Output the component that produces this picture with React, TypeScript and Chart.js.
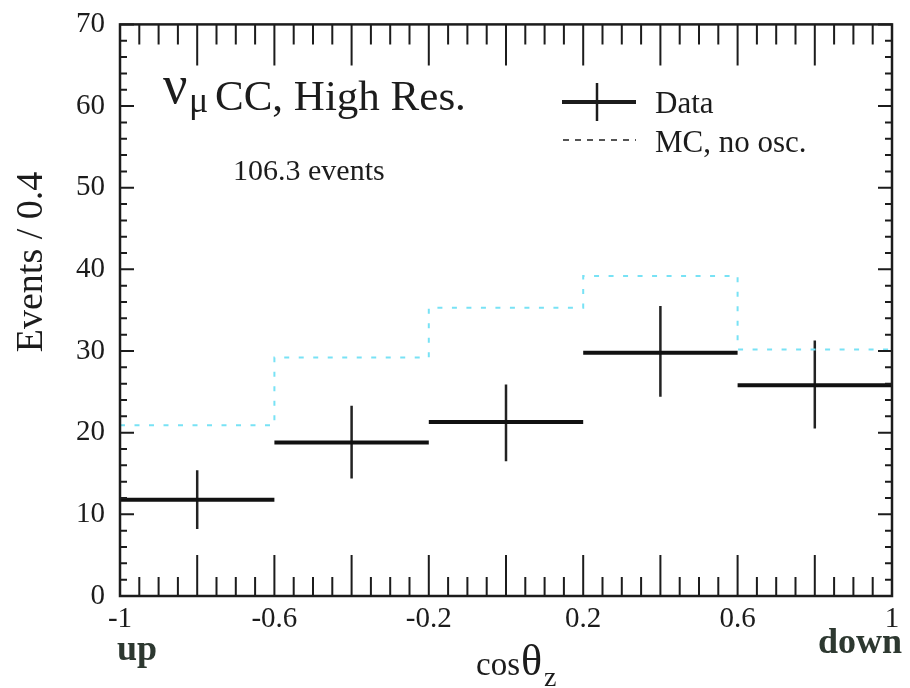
import React, { useEffect, useRef } from "react";
import { Chart, registerables } from "chart.js";

Chart.register(...registerables);

// ---- data ----
const BIN_EDGES = [-1, -0.6, -0.2, 0.2, 0.6, 1];
const BIN_CENTERS = [-0.8, -0.4, 0, 0.4, 0.8];
const DATA_EVENTS = [11.8, 18.8, 21.3, 29.8, 25.8];
const DATA_ERR_UP = [3.6, 4.5, 4.6, 5.7, 5.5];
const DATA_ERR_DOWN = [3.6, 4.4, 4.8, 5.4, 5.3];
const MC_NO_OSC = [20.9, 29.2, 35.3, 39.2, 30.2];

const X_TICKS = [-1, -0.6, -0.2, 0.2, 0.6, 1];
const X_TICK_LABELS = ["-1", "-0.6", "-0.2", "0.2", "0.6", "1"];
const Y_TICKS = [0, 10, 20, 30, 40, 50, 60, 70];
const Y_TICK_LABELS = ["0", "10", "20", "30", "40", "50", "60", "70"];

const TITLE_NU = "ν";
const TITLE_MU = "μ";
const TITLE_REST = "CC, High Res.";
const EVENTS_NOTE = "106.3 events";
const LEGEND_DATA = "Data";
const LEGEND_MC = "MC, no osc.";
const Y_TITLE = "Events / 0.4";
const X_TITLE_COS = "cos";
const X_TITLE_THETA = "θ";
const X_TITLE_SUB = "z";
const LABEL_UP = "up";
const LABEL_DOWN = "down";

const SERIF = "'Liberation Serif', 'Times New Roman', serif";
const INK = "#1c1c1c";
const MC_COLOR = "rgb(120, 226, 245)";

const framePlugin = {
  id: "frameAndNotes",
  afterDraw(chart: any) {
    const { ctx, chartArea } = chart;
    const xs = chart.scales.x;
    const ys = chart.scales.y;
    const { left, right, top, bottom } = chartArea;
    ctx.save();
    ctx.strokeStyle = INK;
    ctx.lineCap = "butt";

    // inward ticks, x (bottom & top)
    ctx.lineWidth = 2;
    for (let k = 0; k <= 40; k++) {
      const v = -1 + k * 0.05;
      const px = xs.getPixelForValue(v);
      const major = k % 4 === 0;
      const lb = major ? 41 : 19;
      const lt = major ? 41 : 20;
      ctx.beginPath();
      ctx.moveTo(px, bottom);
      ctx.lineTo(px, bottom - lb);
      ctx.moveTo(px, top);
      ctx.lineTo(px, top + lt);
      ctx.stroke();
    }
    // inward ticks, y (left & right)
    for (let k = 0; k <= 35; k++) {
      const v = k * 2;
      const py = ys.getPixelForValue(v);
      const major = k % 5 === 0;
      const l = major ? 14 : 7;
      ctx.beginPath();
      ctx.moveTo(left, py);
      ctx.lineTo(left + l, py);
      ctx.moveTo(right, py);
      ctx.lineTo(right - l, py);
      ctx.stroke();
    }
    // frame
    ctx.lineWidth = 2.5;
    ctx.strokeRect(left, top, right - left, bottom - top);

    // title
    ctx.fillStyle = INK;
    ctx.textAlign = "left";
    ctx.textBaseline = "alphabetic";
    ctx.font = `54px ${SERIF}`;
    ctx.fillText(TITLE_NU, 163, 103);
    ctx.font = `36px ${SERIF}`;
    ctx.fillText(TITLE_MU, 189, 112);
    ctx.font = `43px ${SERIF}`;
    ctx.fillText(TITLE_REST, 215, 110);

    ctx.font = `30px ${SERIF}`;
    ctx.fillText(EVENTS_NOTE, 233, 180);

    // legend
    ctx.lineWidth = 4;
    ctx.beginPath();
    ctx.moveTo(562, 102);
    ctx.lineTo(636, 102);
    ctx.stroke();
    ctx.lineWidth = 2.5;
    ctx.beginPath();
    ctx.moveTo(597, 83);
    ctx.lineTo(597, 121);
    ctx.stroke();
    ctx.lineWidth = 1.5;
    ctx.setLineDash([6, 6]);
    ctx.beginPath();
    ctx.moveTo(563, 140);
    ctx.lineTo(636, 140);
    ctx.stroke();
    ctx.setLineDash([]);
    ctx.font = `31px ${SERIF}`;
    ctx.fillText(LEGEND_DATA, 655, 113);
    ctx.fillText(LEGEND_MC, 655, 152);

    // x title
    ctx.font = `33px ${SERIF}`;
    ctx.fillText(X_TITLE_COS, 476, 675);
    ctx.font = `44px ${SERIF}`;
    ctx.fillText(X_TITLE_THETA, 521, 675);
    ctx.font = `28px ${SERIF}`;
    ctx.fillText(X_TITLE_SUB, 544, 686);

    // up / down
    ctx.fillStyle = "#2d3830";
    ctx.font = `bold 36px ${SERIF}`;
    ctx.fillText(LABEL_UP, 117, 660);
    ctx.fillText(LABEL_DOWN, 818, 653);

    // y title
    ctx.fillStyle = INK;
    ctx.translate(42, 262);
    ctx.rotate(-Math.PI / 2);
    ctx.textAlign = "center";
    ctx.font = `38px ${SERIF}`;
    ctx.fillText(Y_TITLE, 0, 0);
    ctx.restore();
  },
};

export default function App() {
  const ref = useRef<HTMLCanvasElement | null>(null);

  useEffect(() => {
    const canvas = ref.current;
    if (!canvas) return;

    const mcPoints = BIN_EDGES.map((x, i) => ({
      x,
      y: MC_NO_OSC[Math.min(i, MC_NO_OSC.length - 1)],
    }));
    const hPoints: any[] = [];
    const vPoints: any[] = [];
    BIN_CENTERS.forEach((c, i) => {
      const y = DATA_EVENTS[i];
      hPoints.push({ x: BIN_EDGES[i], y });
      hPoints.push({ x: BIN_EDGES[i + 1], y });
      hPoints.push({ x: BIN_EDGES[i + 1], y: null });
      vPoints.push({ x: c, y: y - DATA_ERR_DOWN[i] });
      vPoints.push({ x: c, y: y + DATA_ERR_UP[i] });
      vPoints.push({ x: c, y: null });
    });

    const chart = new Chart(canvas, {
      type: "line",
      data: {
        datasets: [
          {
            label: "MC, no osc.",
            data: mcPoints,
            stepped: "before",
            borderColor: MC_COLOR,
            borderWidth: 2,
            borderDash: [5, 9.5],
            pointRadius: 0,
            fill: false,
          },
          {
            label: "Data",
            data: hPoints,
            borderColor: "#111",
            borderWidth: 4,
            pointRadius: 0,
            spanGaps: false,
            borderCapStyle: "butt",
          },
          {
            label: "Data errors",
            data: vPoints,
            borderColor: "#222",
            borderWidth: 2.5,
            pointRadius: 0,
            spanGaps: false,
            borderCapStyle: "butt",
          },
        ],
      } as any,
      options: {
        animation: false,
        responsive: false,
        devicePixelRatio: 1,
        layout: { padding: { left: 0, right: 18, top: 21, bottom: 0 } },
        plugins: {
          legend: { display: false },
          tooltip: { enabled: false },
          title: { display: false },
        },
        scales: {
          x: {
            type: "linear",
            min: -1,
            max: 1,
            grid: { display: false },
            border: { display: false },
            afterBuildTicks: (s: any) => {
              s.ticks = X_TICKS.map((v) => ({ value: v }));
            },
            afterFit: (s: any) => {
              s.height = 92;
            },
            ticks: {
              autoSkip: false,
              maxRotation: 0,
              padding: -2,
              color: INK,
              font: { family: SERIF, size: 29 },
              callback: (_v: any, i: number) => X_TICK_LABELS[i],
            },
          },
          y: {
            type: "linear",
            min: 0,
            max: 70,
            grid: { display: false },
            border: { display: false },
            afterBuildTicks: (s: any) => {
              s.ticks = Y_TICKS.map((v) => ({ value: v }));
            },
            afterFit: (s: any) => {
              s.width = 120;
            },
            ticks: {
              padding: 7,
              color: INK,
              font: { family: SERIF, size: 29 },
              callback: (_v: any, i: number) => Y_TICK_LABELS[i],
            },
          },
        },
      } as any,
      plugins: [framePlugin],
    });
    return () => chart.destroy();
  }, []);

  return (
    <div style={{ position: "absolute", left: 0, top: 0, width: 910, height: 688, background: "#fff" }}>
      <canvas ref={ref} width={910} height={688} style={{ width: 910, height: 688, display: "block" }} />
    </div>
  );
}
